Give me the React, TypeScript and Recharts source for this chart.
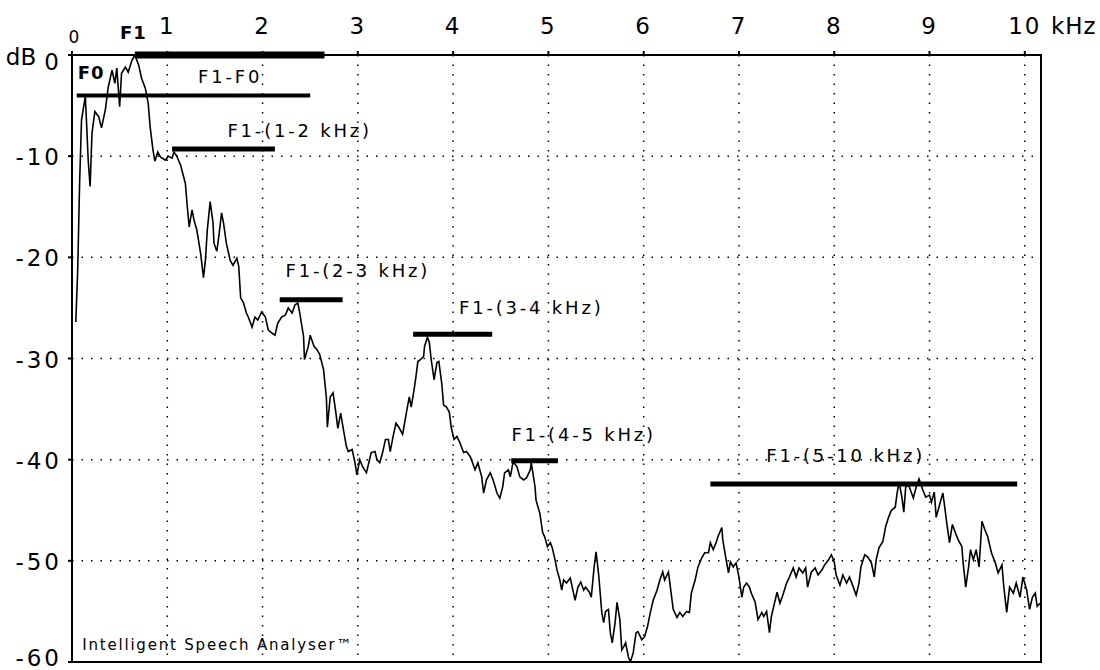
import { CartesianGrid, Line, LineChart, ReferenceArea, ReferenceDot, ReferenceLine, XAxis, YAxis } from "recharts";

// spectrum: frequency in kHz, level in dB
const freqKHz = [
  0.04, 0.06, 0.08, 0.10, 0.14, 0.15, 0.17, 0.19, 0.21, 0.24, 0.28, 0.31, 0.35, 0.38, 0.42, 0.45, 0.47, 0.50, 0.52, 0.56,
  0.59, 0.63, 0.66, 0.70, 0.73, 0.77, 0.80, 0.82, 0.85, 0.87, 0.90, 0.93, 0.98, 1.01, 1.05, 1.07, 1.10, 1.14, 1.19, 1.21,
  1.23, 1.26, 1.28, 1.31, 1.35, 1.38, 1.40, 1.42, 1.45, 1.48, 1.49, 1.52, 1.54, 1.57, 1.59, 1.62, 1.66, 1.69, 1.73, 1.75,
  1.77, 1.80, 1.83, 1.85, 1.89, 1.92, 1.95, 1.99, 2.03, 2.06, 2.10, 2.13, 2.16, 2.20, 2.24, 2.27, 2.31, 2.34, 2.37, 2.39,
  2.43, 2.44, 2.48, 2.50, 2.54, 2.57, 2.60, 2.64, 2.67, 2.68, 2.71, 2.74, 2.77, 2.79, 2.82, 2.85, 2.88, 2.90, 2.94, 2.97,
  2.99, 3.02, 3.05, 3.09, 3.11, 3.14, 3.18, 3.20, 3.23, 3.26, 3.29, 3.32, 3.34, 3.37, 3.40, 3.43, 3.47, 3.49, 3.52, 3.54,
  3.56, 3.59, 3.61, 3.63, 3.66, 3.69, 3.70, 3.73, 3.75, 3.77, 3.80, 3.83, 3.85, 3.88, 3.90, 3.93, 3.96, 3.98, 4.01, 4.04,
  4.07, 4.11, 4.14, 4.18, 4.20, 4.23, 4.26, 4.30, 4.32, 4.35, 4.39, 4.42, 4.46, 4.49, 4.52, 4.54, 4.58, 4.60, 4.63, 4.67,
  4.70, 4.74, 4.77, 4.81, 4.82, 4.86, 4.87, 4.91, 4.94, 4.96, 4.99, 5.02, 5.04, 5.07, 5.09, 5.12, 5.14, 5.16, 5.19, 5.23,
  5.25, 5.28, 5.31, 5.34, 5.37, 5.39, 5.43, 5.45, 5.48, 5.50, 5.51, 5.53, 5.56, 5.58, 5.60, 5.63, 5.65, 5.67, 5.70, 5.72,
  5.75, 5.77, 5.79, 5.81, 5.84, 5.86, 5.89, 5.92, 5.94, 5.98, 6.01, 6.04, 6.07, 6.10, 6.14, 6.17, 6.20, 6.22, 6.26, 6.28,
  6.31, 6.35, 6.38, 6.41, 6.45, 6.48, 6.50, 6.54, 6.57, 6.61, 6.64, 6.68, 6.70, 6.73, 6.76, 6.78, 6.82, 6.83, 6.86, 6.89,
  6.91, 6.94, 6.97, 7.00, 7.03, 7.05, 7.08, 7.11, 7.13, 7.17, 7.20, 7.24, 7.26, 7.29, 7.32, 7.34, 7.38, 7.40, 7.43, 7.46,
  7.50, 7.53, 7.57, 7.60, 7.63, 7.67, 7.70, 7.72, 7.76, 7.80, 7.83, 7.87, 7.90, 7.94, 7.97, 8.00, 8.02, 8.06, 8.09, 8.13,
  8.16, 8.20, 8.23, 8.26, 8.28, 8.32, 8.35, 8.39, 8.42, 8.44, 8.47, 8.51, 8.54, 8.57, 8.60, 8.64, 8.66, 8.68, 8.71, 8.73,
  8.75, 8.78, 8.80, 8.83, 8.86, 8.89, 8.93, 8.96, 9.00, 9.02, 9.05, 9.07, 9.11, 9.14, 9.16, 9.18, 9.21, 9.24, 9.27, 9.30,
  9.34, 9.35, 9.38, 9.41, 9.43, 9.46, 9.49, 9.52, 9.55, 9.58, 9.61, 9.65, 9.69, 9.72, 9.76, 9.78, 9.81, 9.84, 9.88, 9.91,
  9.95, 9.98, 10.02, 10.05, 10.08, 10.11, 10.13, 10.16,
];

const levelDb = [
  -26.4, -21.2, -12.6, -6.4, -4.1, -6.1, -10.4, -13.0, -7.7, -5.6, -6.1, -7.2, -5.4, -3.2, -1.5, -2.8, -1.3, -5.1, -1.8, -1.2,
  -1.7, -0.5, 0, -1.0, -2.3, -3.3, -4.8, -7.1, -9.4, -10.5, -9.6, -10.1, -10.4, -10.0, -10.2, -9.6, -10.0, -10.9, -12.7, -15.0,
  -17.0, -15.3, -16.3, -17.3, -19.6, -22.0, -20.3, -17.3, -14.5, -16.6, -18.6, -19.4, -18.0, -15.6, -16.6, -18.6, -20.3, -20.8, -20.1, -20.9,
  -24.0, -24.5, -25.5, -25.9, -26.9, -25.9, -26.2, -25.4, -25.9, -27.2, -27.5, -27.7, -26.5, -25.9, -25.7, -25.0, -25.5, -24.7, -24.5, -25.5,
  -27.8, -30.1, -28.8, -27.7, -28.8, -29.1, -29.6, -31.1, -33.9, -36.8, -33.8, -33.4, -35.4, -36.9, -35.4, -37.1, -38.7, -39.2, -39.0, -40.3,
  -41.5, -40.0, -40.7, -41.3, -40.5, -39.3, -39.2, -40.0, -40.3, -39.3, -38.0, -38.0, -39.2, -37.7, -36.4, -36.8, -37.5, -36.4, -34.8, -33.8,
  -34.8, -33.1, -31.8, -30.3, -30.1, -29.8, -28.8, -27.9, -28.4, -30.1, -32.1, -30.4, -30.3, -32.4, -34.6, -34.8, -35.3, -36.8, -38.0, -37.7,
  -38.3, -39.3, -39.2, -39.7, -40.2, -41.0, -40.3, -41.7, -43.3, -42.0, -41.3, -42.0, -43.3, -43.8, -42.7, -41.3, -41.0, -41.7, -40.2, -40.7,
  -41.7, -42.0, -41.8, -41.0, -40.3, -42.7, -44.0, -45.3, -47.2, -47.6, -48.6, -48.2, -48.7, -49.9, -50.9, -51.9, -52.9, -51.9, -52.2, -51.7,
  -52.6, -53.9, -52.6, -52.1, -52.9, -52.6, -53.1, -53.6, -50.6, -49.1, -49.9, -51.6, -55.1, -56.1, -55.0, -54.8, -57.1, -58.1, -56.1, -54.1,
  -55.8, -58.8, -58.5, -58.1, -59.5, -60.0, -59.1, -57.1, -57.0, -57.8, -57.5, -56.5, -55.1, -53.9, -52.9, -51.9, -51.1, -51.9, -51.1, -52.6,
  -54.8, -55.6, -55.1, -55.5, -55.0, -55.1, -53.2, -51.9, -50.6, -49.7, -49.2, -49.2, -48.2, -48.9, -48.2, -47.6, -46.7, -47.9, -49.6, -51.2,
  -50.1, -50.6, -50.2, -51.6, -53.6, -52.6, -52.2, -52.6, -53.2, -54.1, -55.8, -55.1, -55.5, -55.0, -57.1, -55.5, -53.9, -53.1, -54.2, -53.4,
  -52.2, -51.6, -50.7, -51.6, -50.7, -51.2, -50.7, -52.6, -51.1, -50.7, -51.4, -50.9, -50.4, -49.9, -49.4, -50.1, -51.4, -52.4, -51.4, -52.2,
  -51.6, -52.6, -53.4, -52.2, -50.6, -49.4, -49.6, -50.2, -51.6, -49.9, -48.7, -48.1, -46.6, -45.7, -45.0, -44.7, -43.3, -42.2, -43.7, -45.2,
  -42.7, -42.5, -43.0, -43.8, -42.7, -41.9, -43.0, -43.7, -43.5, -44.2, -43.2, -45.7, -44.3, -43.3, -44.7, -46.2, -48.2, -46.4, -47.2, -47.9,
  -48.6, -49.9, -52.6, -50.6, -48.9, -49.9, -48.9, -50.6, -46.1, -46.9, -47.6, -49.2, -50.2, -51.2, -50.4, -52.6, -55.1, -52.6, -53.2, -52.2,
  -53.6, -51.6, -52.9, -54.8, -53.6, -53.2, -54.5, -54.2,
];

const kHzTicks = [0, 1, 2, 3, 4, 5, 6, 7, 8, 9, 10];
const dbTicks = [0, -10, -20, -30, -40, -50, -60];

// horizontal level bars (kHz from, kHz to, dB level)
const bars = [
  { from: 0.66, to: 2.65, level: 0 },
  { from: 0.05, to: 2.5, level: -4.0 },
  { from: 1.05, to: 2.13, level: -9.3 },
  { from: 2.18, to: 2.84, level: -24.2 },
  { from: 3.58, to: 4.41, level: -27.6 },
  { from: 4.61, to: 5.1, level: -40.1 },
  { from: 6.7, to: 9.92, level: -42.4 },
];

const bandNotes = [
  { k: 1.66, db: -2.1, text: "F1-F0" },
  { k: 2.39, db: -7.5, text: "F1-(1-2 kHz)" },
  { k: 3.0, db: -21.3, text: "F1-(2-3 kHz)" },
  { k: 4.82, db: -25.0, text: "F1-(3-4 kHz)" },
  { k: 5.37, db: -37.5, text: "F1-(4-5 kHz)" },
  { k: 8.12, db: -39.6, text: "F1-(5-10 kHz)" },
];

const formantNotes = [
  { k: 0.645, db: 2.2, text: "F1" },
  { k: 0.2, db: -1.7, text: "F0" },
];

const footnote = { k: 1.53, db: -58.3, text: "Intelligent Speech Analyser™" };

const spectrum = freqKHz.map((k, i) => ({ k, db: levelDb[i] }));

const FONT = '"DejaVu Sans", Verdana, sans-serif';
const barThickness = [7, 4, 5, 5, 5, 5, 5];

function TopTick(props: any) {
  const { x, y, payload } = props;
  const v = payload.value;
  const base = { fontFamily: FONT, fill: "#000", dominantBaseline: "central" as const };
  if (v === 0) {
    return <text x={x + 2} y={y - 14} fontSize={17} textAnchor="middle" {...base}>0</text>;
  }
  return (
    <g>
      <text x={x} y={y - 25} fontSize={23} textAnchor="middle" style={{ letterSpacing: 2 }} {...base}>{v}</text>
      {v === 10 && <text x={x + 49} y={y - 25} fontSize={23} textAnchor="middle" style={{ letterSpacing: 1 }} {...base}>kHz</text>}
    </g>
  );
}

function LeftTick(props: any) {
  const { x, y, payload } = props;
  const v = payload.value;
  const base = { fontFamily: FONT, fill: "#000", dominantBaseline: "central" as const, fontSize: 23 };
  const dy = v === 0 ? 7 : v === -60 ? -3 : 1;
  return (
    <g>
      <text x={x} y={y + dy} textAnchor="end" style={{ letterSpacing: 3 }} {...base}>{v}</text>
      {v === 0 && <text x={x - 41} y={y + 2} textAnchor="middle" {...base}>dB</text>}
    </g>
  );
}

const note = (text: string, size: number, bold: boolean, spacing: number) => (p: any) => (
  <text
    x={p.cx}
    y={p.cy}
    textAnchor="middle"
    dominantBaseline="central"
    fontFamily={FONT}
    fontSize={size}
    fontWeight={bold ? 700 : 400}
    fill="#000"
    style={{ letterSpacing: spacing }}
  >
    {text}
  </text>
);

export default function App() {
  return (
    <div style={{ position: "absolute", left: 0, top: 0, width: 1100, height: 670, background: "#fff" }}>
      <LineChart width={1100} height={670} data={spectrum} margin={{ top: 25, right: 59, bottom: 8, left: 12 }}>
        <CartesianGrid stroke="#000" strokeWidth={1.5} strokeDasharray="1.5 8" />
        <XAxis
          dataKey="k"
          type="number"
          orientation="top"
          domain={[0, 10.17]}
          ticks={kHzTicks}
          allowDataOverflow
          height={30}
          tickSize={4}
          tickMargin={0}
          tick={<TopTick />}
          axisLine={{ stroke: "#000", strokeWidth: 2 }}
          tickLine={{ stroke: "#000", strokeWidth: 2 }}
        />
        <YAxis
          type="number"
          domain={[-60, 0]}
          ticks={dbTicks}
          allowDataOverflow
          width={60}
          tickSize={4}
          tickMargin={6}
          tick={<LeftTick />}
          axisLine={{ stroke: "#000", strokeWidth: 2 }}
          tickLine={{ stroke: "#000", strokeWidth: 2 }}
        />
        <ReferenceArea x1={0} x2={10.17} y1={-60} y2={0} fill="none" stroke="#000" strokeWidth={2} ifOverflow="visible" />
        <Line type="linear" dataKey="db" stroke="#000" strokeWidth={1.6} dot={false} isAnimationActive={false} />
        {bars.map((b, i) => (
          <ReferenceLine
            key={`bar-${i}`}
            segment={[{ x: b.from, y: b.level }, { x: b.to, y: b.level }]}
            stroke="#000"
            strokeWidth={barThickness[i]}
            ifOverflow="visible"
          />
        ))}
        {bandNotes.map((n) => (
          <ReferenceDot key={n.text} x={n.k} y={n.db} r={0} ifOverflow="visible" shape={note(n.text, 18, false, 2.8)} />
        ))}
        {formantNotes.map((n) => (
          <ReferenceDot key={n.text} x={n.k} y={n.db} r={0} ifOverflow="visible" shape={note(n.text, 18, true, 1)} />
        ))}
        <ReferenceDot x={footnote.k} y={footnote.db} r={0} ifOverflow="visible" shape={note(footnote.text, 15, false, 1.8)} />
      </LineChart>
    </div>
  );
}
